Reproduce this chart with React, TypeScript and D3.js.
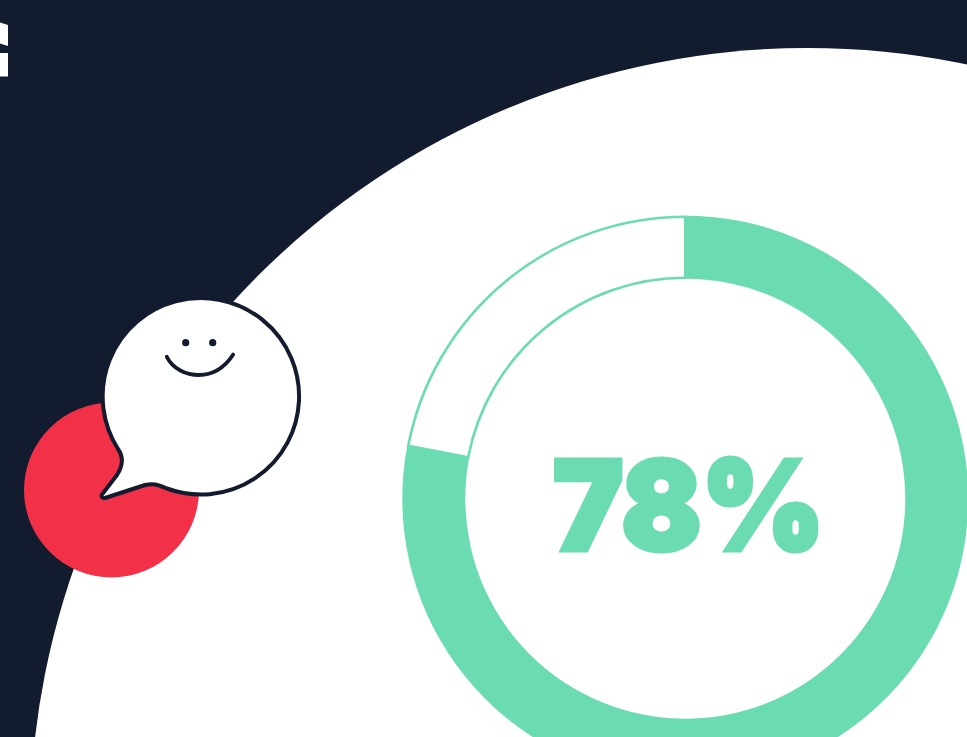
import React from "react";
import * as d3 from "d3";

// Share of respondents shown by the donut, and its remainder
const shareLabels = ["positive", "other"];
const shareValues = [78, 22];
const headline = "78%";

const W = 967;
const H = 737;
const NAVY = "#121c2e";
const GREEN = "#6bdcb1";
const RED = "#f23047";

// Corner letter fragments on the navy background
const letterPieces = [
  "M0,22.5 L8,25 L8,46 L0,43.5 Z",
  "M0,53 L8,53 L8,76.5 L0,76.5 Z",
];

export default function App() {
  const slices = d3.pie<number>().sort(null)(shareValues);
  const ring = d3.arc<d3.PieArcDatum<number>>().innerRadius(220).outerRadius(283);
  const gapOutline = d3.arc<d3.PieArcDatum<number>>().innerRadius(221).outerRadius(282);

  return (
    <svg
      width={W}
      height={H}
      viewBox={`0 0 ${W} ${H}`}
      style={{ position: "fixed", left: 0, top: 0, display: "block" }}
    >
      <rect width={W} height={H} fill={NAVY} />
      {letterPieces.map((d, i) => (
        <path key={i} d={d} fill="#ffffff" />
      ))}
      <circle cx={808} cy={826} r={778} fill="#ffffff" />

      {/* Speech bubble over the red disc */}
      <circle cx={111.5} cy={490} r={87.5} fill={RED} />
      <path
        d="M167,488.5 A98.2,98.2 0 1 0 118,449 C123,456 124,464 117,475 L102,494.5 C101,497 102,498.5 105,498 L145,485 C153,483 157,484.5 167,488.5 Z"
        fill="#ffffff"
        stroke={NAVY}
        strokeWidth={4}
        strokeLinejoin="round"
      />
      <circle cx={185.7} cy={342.7} r={3.6} fill={NAVY} />
      <circle cx={212.7} cy={342.7} r={3.6} fill={NAVY} />
      <path
        d="M166.8,356.8 C173,369 186,375 199,375 C213,375 225,367 233.2,354.5"
        fill="none"
        stroke={NAVY}
        strokeWidth={3.8}
        strokeLinecap="round"
      />

      {/* Donut */}
      <g transform="translate(685.3,498.7)">
        <title>{shareLabels.join(" / ")}</title>
        <path d={ring(slices[0]) ?? ""} fill={GREEN} />
        <path d={gapOutline(slices[1]) ?? ""} fill="#ffffff" stroke={GREEN} strokeWidth={2.6} />
        <text
          x={3.5}
          y={51}
          textAnchor="middle"
          fontFamily="Inter, Roboto, sans-serif"
          fontWeight={900}
          fontSize={124}
          fill={GREEN}
          stroke={GREEN}
          strokeWidth={5}
          strokeLinejoin="miter"
          textLength={271}
          lengthAdjust="spacingAndGlyphs"
        >
          {headline}
        </text>
      </g>
    </svg>
  );
}
